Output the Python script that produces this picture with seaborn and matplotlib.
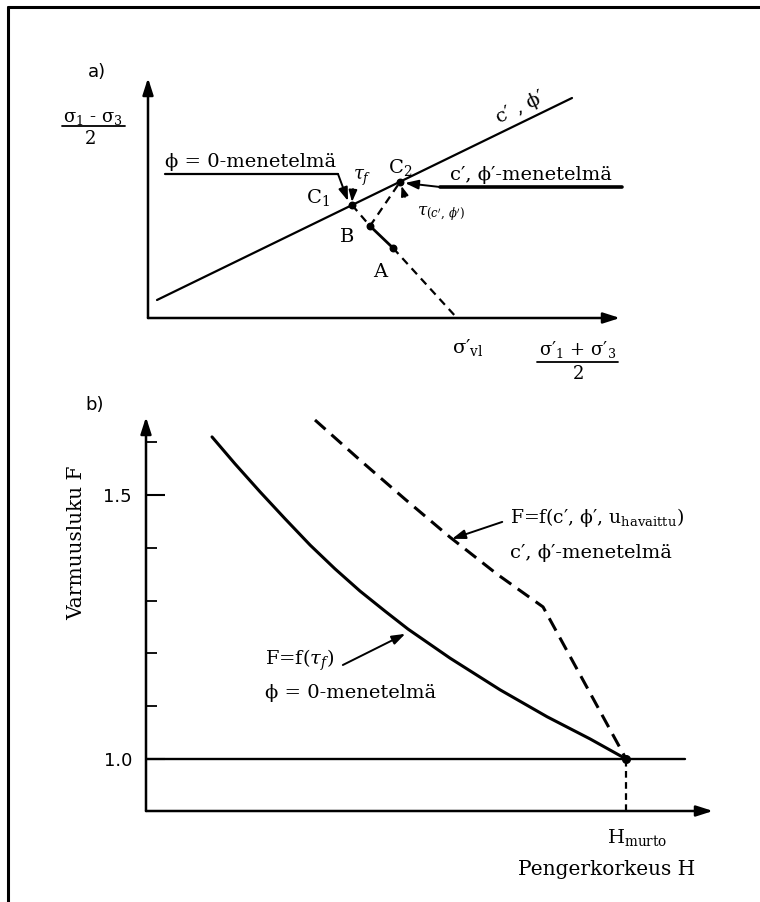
import numpy as np
import pandas as pd
import matplotlib
matplotlib.use("Agg")
import matplotlib.pyplot as plt
import seaborn as sns
from matplotlib.lines import Line2D

sns.set_theme(style="white")
plt.rcParams["font.family"] = ["DejaVu Serif", "DejaVu Sans"]
plt.rcParams["mathtext.fontset"] = "dejavuserif"
plt.rcParams["text.color"] = "black"

# ---------------- data: panel a (stress-path diagram, arbitrary units) -------------
envelope_s = [0.09, 4.24]          # (s'1+s'3)/2 of failure envelope ends
envelope_t = [0.18, 2.20]          # (s1-s3)/2 of failure envelope ends
point_names = ["C1", "C2", "B", "A"]
point_s = [2.04, 2.52, 2.22, 2.45]
point_t = [1.13, 1.36, 0.92, 0.70]
sigma_vl = 3.09                    # initial effective vertical stress on s-axis
axis_a_max = [4.72, 2.40]          # arrow tips of the two axes
phi0_level = 1.44                  # level of the "phi = 0" leader line
phi0_span = [0.17, 1.90]
cphi_level = 1.31                  # level of the "c', phi'" leader line
cphi_span = [2.92, 4.74]

# ---------------- data: panel b (safety factor vs embankment height) ---------------
H_tau = [0.1375, 0.1854, 0.2375, 0.2896, 0.342, 0.3938, 0.4458, 0.4979, 0.5458,
         0.6333, 0.7375, 0.8354, 0.925, 1.0]
F_tau = [1.610, 1.559, 1.506, 1.455, 1.405, 1.360, 1.318, 1.280, 1.246,
         1.191, 1.131, 1.080, 1.038, 1.0]
H_eff = [0.352, 0.4458, 0.5396, 0.6333, 0.7313, 0.827, 1.0]
F_eff = [1.642, 1.566, 1.492, 1.420, 1.350, 1.288, 1.0]
H_murto = 1.0
F_line = 1.0
H_line_end = 1.123
H_axis_max = 1.181
F_axis_min, F_axis_max = 0.9015, 1.6477
F_major = [1.0, 1.5]
F_major_labels = ["1.0", "1.5"]
F_minor = [1.1, 1.2, 1.3, 1.4, 1.6]

W, Hpx = 760, 902
fig = plt.figure(figsize=(W / 100, Hpx / 100), dpi=100)


def px_axes(x0, y0, x1, y1):
    return fig.add_axes([x0 / W, 1 - y1 / Hpx, (x1 - x0) / W, (y1 - y0) / Hpx])


def arrow(ax, start, tip, lw=1.8, hl=1.0, hw=0.32, ms=10):
    ax.annotate("", xy=tip, xytext=start,
                arrowprops=dict(arrowstyle=f"-|>,head_length={hl},head_width={hw}",
                                color="black", lw=lw, shrinkA=0, shrinkB=0,
                                mutation_scale=ms))


# ---------------- frame ----------------
fig.add_artist(Line2D([8 / W, 1], [1 - 6.5 / Hpx] * 2, transform=fig.transFigure,
                      color="black", lw=2.2))
fig.add_artist(Line2D([8 / W, 8 / W], [0, 1 - 6.5 / Hpx], transform=fig.transFigure,
                      color="black", lw=2.2))

# ================= panel a =================
axA = px_axes(40, 40, 720, 390)
axA.set_xlim(-1.08, 5.72)
axA.set_ylim(-0.72, 2.78)
axA.axis("off")

arrow(axA, (0, 0), (0, axis_a_max[1]))
arrow(axA, (0, 0), (axis_a_max[0], 0))

sns.lineplot(x=envelope_s, y=envelope_t, ax=axA, color="black", lw=1.6,
             sort=False, estimator=None)

ps = dict(zip(point_names, zip(point_s, point_t)))
dash_a = (0, (3.6, 2.6))
# stress path C1 -> B (dashed), B -> A (solid), A -> sigma'_vl (dashed)
sns.lineplot(x=[ps["C1"][0], ps["B"][0]], y=[ps["C1"][1], ps["B"][1]], ax=axA,
             color="black", lw=1.6, linestyle=dash_a, sort=False, estimator=None)
sns.lineplot(x=[ps["B"][0], ps["A"][0]], y=[ps["B"][1], ps["A"][1]], ax=axA,
             color="black", lw=2.0, sort=False, estimator=None)
sns.lineplot(x=[ps["A"][0], sigma_vl], y=[ps["A"][1], 0], ax=axA,
             color="black", lw=1.6, linestyle=dash_a, sort=False, estimator=None)
# B -> C2 (dashed)
sns.lineplot(x=[ps["B"][0], ps["C2"][0]], y=[ps["B"][1], ps["C2"][1]], ax=axA,
             color="black", lw=1.6, linestyle=dash_a, sort=False, estimator=None)
axA.scatter(point_s, point_t, s=22, color="black", zorder=5)

# phi = 0 leader
sns.lineplot(x=phi0_span, y=[phi0_level] * 2, ax=axA, color="black", lw=1.6,
             sort=False, estimator=None)
arrow(axA, (phi0_span[1], phi0_level), (ps["C1"][0] - 0.04, ps["C1"][1] + 0.04),
      lw=1.4, hl=0.8, hw=0.28)
axA.text(phi0_span[0], 1.51, "ϕ = 0-menetelmä", fontsize=14, ha="left", va="baseline")
axA.text(2.14, 1.40, r"$\tau_f$", fontsize=13, ha="center", va="center")
arrow(axA, (2.05, 1.29), (2.04, 1.16), lw=1.3, hl=0.7, hw=0.25)

# c', phi' leader
sns.lineplot(x=cphi_span, y=[cphi_level] * 2, ax=axA, color="black", lw=2.6,
             sort=False, estimator=None)
arrow(axA, (cphi_span[0], cphi_level), (ps["C2"][0] + 0.05, ps["C2"][1] - 0.01),
      lw=1.4, hl=0.8, hw=0.28)
axA.text(3.02, 1.38, "c′, ϕ′-menetelmä", fontsize=14, ha="left", va="baseline")
axA.text(2.93, 1.04, r"$\tau_{(c^{\prime},\,\phi^{\prime})}$", fontsize=12,
         ha="center", va="center")
arrow(axA, (2.57, 1.21), (2.535, 1.32), lw=1.2, hl=0.6, hw=0.22)

axA.text(1.70, 1.20, r"$\mathrm{C}_1$", fontsize=14, ha="center", va="center")
axA.text(2.52, 1.51, r"$\mathrm{C}_2$", fontsize=14, ha="center", va="center")
axA.text(1.99, 0.81, "B", fontsize=14, ha="center", va="center")
axA.text(2.32, 0.46, "A", fontsize=14, ha="center", va="center")
axA.text(3.72, 2.10, "c′ , ϕ′", fontsize=14, ha="center", va="center", rotation=26,
         rotation_mode="anchor")
axA.text(3.20, -0.29, r"σ′$_{\mathrm{vl}}$", fontsize=14, ha="center", va="center")

# axis labels (fractions)
axA.text(4.30, -0.32, r"σ′$_1$ + σ′$_3$", fontsize=13, ha="center", va="center")
sns.lineplot(x=[3.89, 4.70], y=[-0.44, -0.44], ax=axA, color="black", lw=1.3,
             sort=False, estimator=None)
axA.text(4.30, -0.56, "2", fontsize=13, ha="center", va="center")

axA.text(-0.55, 2.00, r"σ$_1$ - σ$_3$", fontsize=13, ha="center", va="center")
sns.lineplot(x=[-0.86, -0.23], y=[1.92, 1.92], ax=axA, color="black", lw=1.3,
             sort=False, estimator=None)
axA.text(-0.58, 1.79, "2", fontsize=13, ha="center", va="center")
axA.text(-0.51, 2.46, "a)", fontsize=13, ha="center", va="center",
         family="DejaVu Sans")

# ================= panel b =================
axB = px_axes(146, 417, 713, 811)
axB.set_xlim(0, H_axis_max)
axB.set_ylim(F_axis_min, F_axis_max)
for sp in axB.spines.values():
    sp.set_visible(False)
axB.set_xticks([])
axB.set_yticks(F_major)
axB.set_yticklabels(F_major_labels)
axB.set_yticks(F_minor, minor=True)
axB.tick_params(axis="y", which="major", left=True, direction="in", length=14,
                width=1.5, pad=10, labelsize=13, colors="black",
                labelfontfamily="DejaVu Sans")
axB.tick_params(axis="y", which="minor", left=True, direction="in", length=8,
                width=1.3, colors="black")
axB.set_facecolor("none")

arrow(axB, (0, F_axis_min), (0, F_axis_max))
arrow(axB, (0, F_axis_min), (H_axis_max, F_axis_min))

sns.lineplot(x=[0, H_line_end], y=[F_line, F_line], ax=axB, color="black", lw=1.7,
             sort=False, estimator=None)
sns.lineplot(x=[H_murto, H_murto], y=[F_axis_min, F_line], ax=axB, color="black",
             lw=1.6, linestyle=(0, (3, 2)), sort=False, estimator=None)

sns.lineplot(x=H_tau, y=F_tau, ax=axB, color="black", lw=2.2, sort=False,
             estimator=None)
sns.lineplot(x=H_eff, y=F_eff, ax=axB, color="black", lw=2.2, sort=False,
             estimator=None, linestyle=(0, (4.6, 2.6)))
axB.scatter([H_murto], [F_line], s=30, color="black", zorder=5)

axB.text(0.758, 1.458, r"F=f(c′, ϕ′, u$_{\mathrm{havaittu}}$)", fontsize=13.5,
         ha="left", va="center")
axB.text(0.758, 1.390, "c′, ϕ′-menetelmä", fontsize=14, ha="left", va="center")
arrow(axB, (0.742, 1.449), (0.6375, 1.417), lw=1.4, hl=0.8, hw=0.28)

axB.text(0.248, 1.1875, r"F=f($\tau_f$)", fontsize=14, ha="left", va="center")
axB.text(0.248, 1.125, "ϕ = 0-menetelmä", fontsize=14, ha="left", va="center")
arrow(axB, (0.41, 1.178), (0.54, 1.237), lw=1.4, hl=0.8, hw=0.28)

axB.text(0.960, 0.852, r"H$_{\mathrm{murto}}$", fontsize=14, ha="left", va="center")
axB.text(0.775, 0.790, "Pengerkorkeus H", fontsize=14.5, ha="left", va="center")
axB.text(-0.144, 1.409, "Varmuusluku F", fontsize=14.5, ha="center", va="center",
         rotation=90)
axB.text(-0.108, 1.670, "b)", fontsize=13, ha="center", va="center",
         family="DejaVu Sans")

fig.savefig("out.png", dpi=100, facecolor="white")
